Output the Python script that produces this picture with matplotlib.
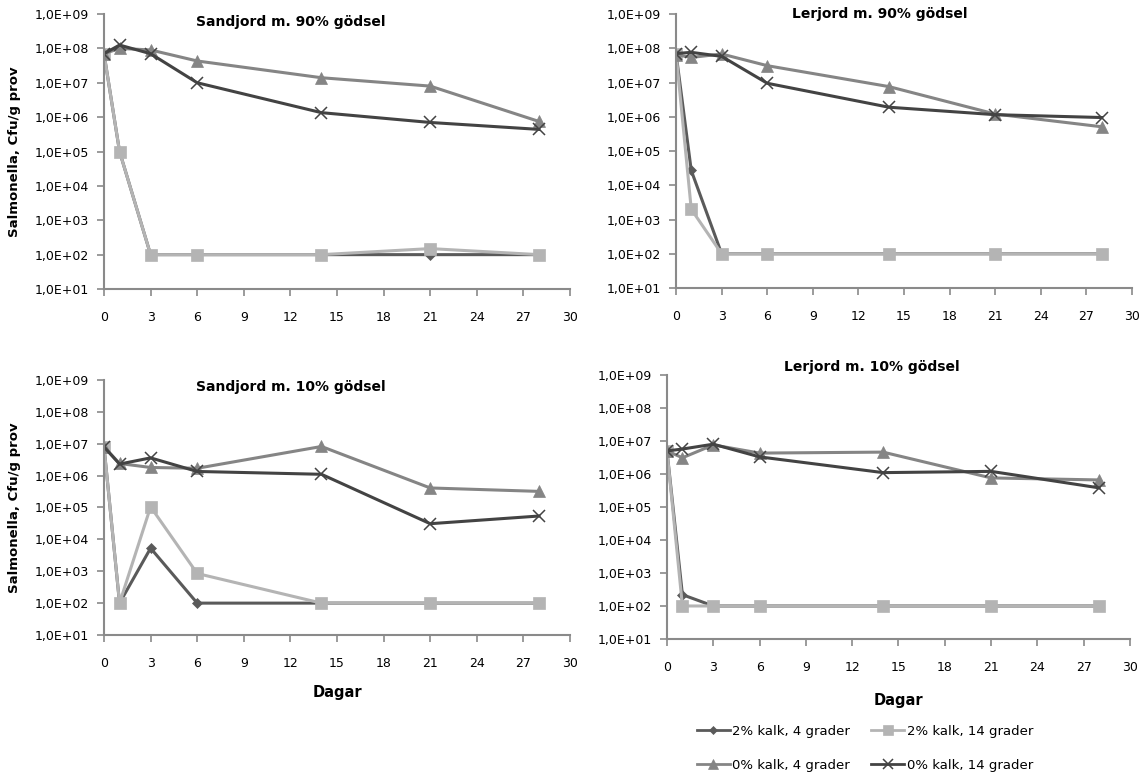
"""Salmonella survival in soil/manure mixtures, four panels."""

import math

import matplotlib
matplotlib.use("Agg")
import matplotlib.pyplot as plt
from matplotlib.ticker import FixedLocator, FuncFormatter, NullLocator
from matplotlib.lines import Line2D

plt.rcParams["font.family"] = ["DejaVu Sans"]

days = [0, 1, 3, 6, 14, 21, 28]

# Sandjord m. 90% gödsel
sand90_k2_4 = [7e7, 1e5, 100, 100, 100, 100, 100]
sand90_k2_14 = [7e7, 1e5, 100, 100, 100, 150, 100]
sand90_k0_4 = [7e7, 1e8, 9e7, 4.3e7, 1.4e7, 8e6, 7.5e5]
sand90_k0_14 = [7e7, 1.25e8, 7e7, 1e7, 1.35e6, 7e5, 4.4e5]

# Lerjord m. 90% gödsel
ler90_k2_4 = [7e7, 2.7e4, 100, 100, 100, 100, 100]
ler90_k2_14 = [7e7, 2e3, 100, 100, 100, 100, 100]
ler90_k0_4 = [6.5e7, 5.4e7, 6.8e7, 3.1e7, 7.6e6, 1.2e6, 5.1e5]
ler90_k0_14 = [7e7, 7.6e7, 5.8e7, 9.5e6, 1.9e6, 1.15e6, 9.5e5]

# Sandjord m. 10% gödsel
sand10_k2_4 = [8e6, 100, 5.3e3, 100, 100, 100, 100]
sand10_k2_14 = [8e6, 100, 1.05e5, 8.5e2, 100, 100, 100]
sand10_k0_4 = [8e6, 2.4e6, 1.8e6, 1.7e6, 8.2e6, 4.1e5, 3.2e5]
sand10_k0_14 = [8e6, 2.3e6, 3.6e6, 1.35e6, 1.1e6, 3.1e4, 5.4e4]

# Lerjord m. 10% gödsel
ler10_k2_4 = [5e6, 2.2e2, 100, 100, 100, 100, 100]
ler10_k2_14 = [5e6, 100, 100, 100, 100, 100, 100]
ler10_k0_4 = [5e6, 3.1e6, 7.6e6, 4.3e6, 4.6e6, 7.6e5, 6.6e5]
ler10_k0_14 = [5e6, 5.7e6, 8e6, 3.3e6, 1.1e6, 1.2e6, 3.8e5]

series_labels = ["2% kalk, 4 grader", "2% kalk, 14 grader",
                 "0% kalk, 4 grader", "0% kalk, 14 grader"]

# (color, marker, markersize) per series
STYLES = [
    ("#5a5a5a", "D", 5),
    ("#b4b4b4", "s", 8),
    ("#858585", "^", 8),
    ("#434343", "x", 8),
]

# title, data, axes rect, y label?, x label?, title position (axes fraction)
panels = [
    ("Sandjord m. 90% gödsel", [sand90_k2_4, sand90_k2_14, sand90_k0_4, sand90_k0_14],
     [0.0906, 0.6285, 0.4059, 0.3535], True, False, (0.40, 0.971)),
    ("Lerjord m. 90% gödsel", [ler90_k2_4, ler90_k2_14, ler90_k0_4, ler90_k0_14],
     [0.5889, 0.6298, 0.3972, 0.3522], False, False, (0.447, 1.0)),
    ("Sandjord m. 10% gödsel", [sand10_k2_4, sand10_k2_14, sand10_k0_4, sand10_k0_14],
     [0.0906, 0.1838, 0.4059, 0.3278], True, True, (0.40, 0.973)),
    ("Lerjord m. 10% gödsel", [ler10_k2_4, ler10_k2_14, ler10_k0_4, ler10_k0_14],
     [0.5810, 0.1787, 0.4033, 0.3393], False, True, (0.443, 1.03)),
]


def sci_comma(v, pos):
    return f"1,0E+{int(round(math.log10(v))):02d}"


fig = plt.figure(figsize=(11.48, 7.78), dpi=100)

for title, data, rect, ylab, xlab, tpos in panels:
    ax = fig.add_axes(rect)
    for vals, (color, marker, ms) in zip(data, STYLES):
        ax.plot(days, vals, color=color, lw=2.2, marker=marker, ms=ms,
                mew=1.1 if marker == "x" else 0.5, mec=color, mfc=color)
    ax.set_yscale("log")
    ax.set_ylim(10, 1e9)
    ax.set_xlim(0, 30)
    ax.yaxis.set_major_locator(FixedLocator([10 ** k for k in range(1, 10)]))
    ax.yaxis.set_minor_locator(NullLocator())
    ax.yaxis.set_major_formatter(FuncFormatter(sci_comma))
    ax.set_xticks(range(0, 31, 3))
    for side in ("top", "right"):
        ax.spines[side].set_visible(False)
    for side in ("left", "bottom"):
        ax.spines[side].set_color("#8a8a8a")
        ax.spines[side].set_linewidth(1.5)
    ax.tick_params(direction="out", length=5, width=1.2, color="#8a8a8a",
                   labelsize=9)
    ax.tick_params(axis="y", pad=6)
    ax.tick_params(axis="x", pad=11)
    ax.text(tpos[0], tpos[1], title, transform=ax.transAxes, ha="center",
            va="center", fontsize=10, fontweight="bold")
    if ylab:
        ax.set_ylabel("Salmonella, Cfu/g prov", fontsize=9.5, fontweight="bold")
        ax.yaxis.set_label_coords(-0.178, 0.5)
    if xlab:
        ax.set_xlabel("Dagar", fontsize=10.5, fontweight="bold")
        ax.xaxis.set_label_coords(0.5, -0.195 if rect[0] < 0.5 else -0.205)

handles = [Line2D([], [], color=c, lw=2, marker=m, ms=ms * 0.85,
                  mew=1.1 if m == "x" else 0.5, mec=c, mfc=c)
           for c, m, ms in STYLES]
# legend fills column by column; reorder so rows read as in the original
order = [0, 2, 1, 3]
fig.legend(handles=[handles[i] for i in order],
           labels=[series_labels[i] for i in order],
           ncol=2, frameon=False, loc="upper left",
           bbox_to_anchor=(0.607, 0.068), borderpad=0, borderaxespad=0,
           fontsize=9.5, handlelength=2.5, handletextpad=0.2,
           columnspacing=1.6, labelspacing=1.55)

fig.savefig("out.png", dpi=100)
